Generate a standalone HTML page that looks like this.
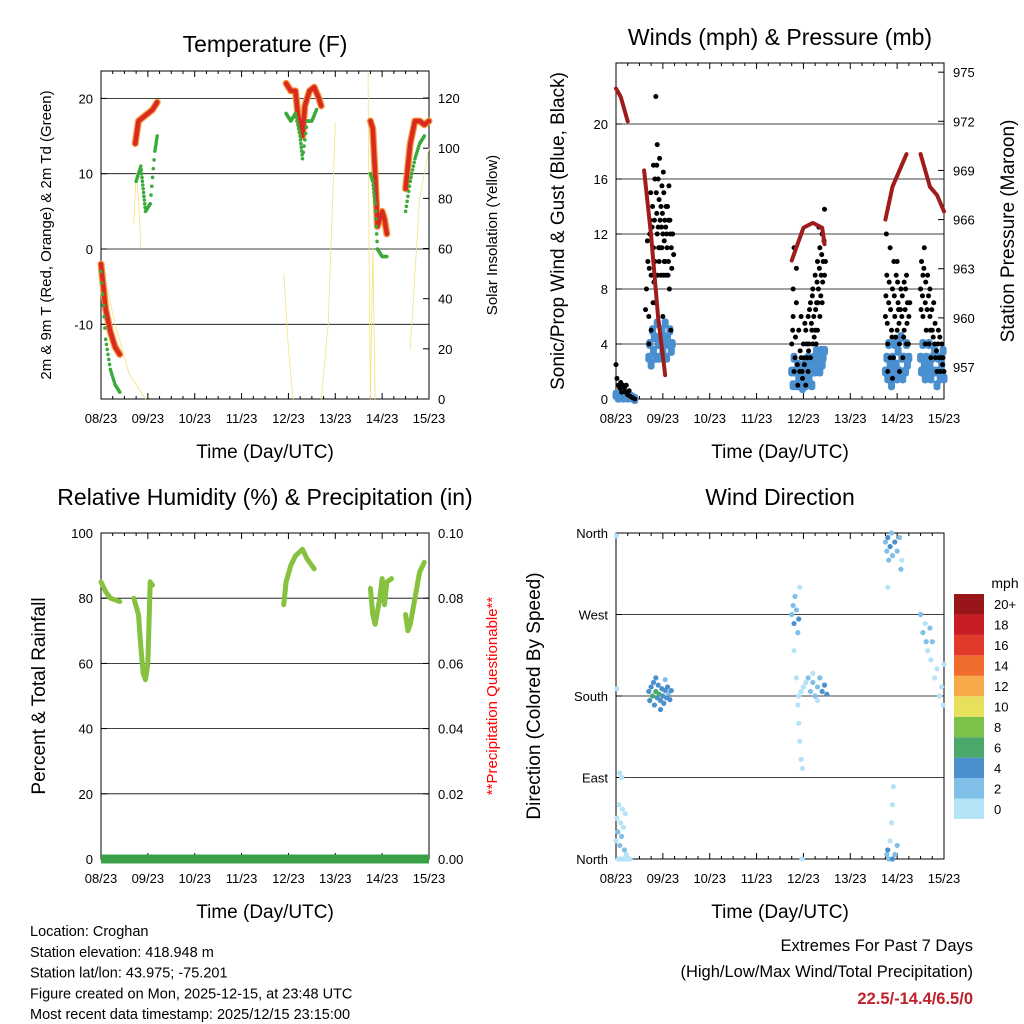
<!DOCTYPE html>
<html><head><meta charset="utf-8"><style>
body{margin:0;background:#fff}
svg{display:block;font-family:"Liberation Sans",sans-serif}
</style></head><body>
<svg id="chart" width="1024" height="1024" viewBox="0 0 1024 1024" xmlns="http://www.w3.org/2000/svg">
<rect width="1024" height="1024" fill="#fff"/>
<g id="g"></g>
</svg>
<script>
// ---- data ----
const dayTicks = ["08/23","09/23","10/23","11/23","12/23","13/23","14/23","15/23"];
const tempDays = [[0,0.1,0.2,0.3,0.4],[0.73,0.8,0.9,1.0,1.1,1.2],[3.95,4.05,4.15,4.2,4.3,4.35,4.45,4.55,4.65,4.7],[5.75,5.8,5.85,5.9,6.0,6.05,6.1],[6.5,6.6,6.7,6.8,6.9,7.0]];
const tempVals = [[-2,-8,-11,-13,-14],[14,17,17.5,18,18.5,19.5],[22,21,21,18,15,19,21,21.5,20,19],[17,16,10,3,5,4,2],[8,14,17,17,16.5,17]];
const dewDays = [[0,0.1,0.2,0.3,0.4],[0.75,0.85,0.9,0.95,1.05,1.15,1.2],[3.95,4.05,4.15,4.25,4.3,4.4,4.5,4.6],[5.75,5.8,5.85,5.9,6.0,6.1],[6.5,6.6,6.7,6.8,6.9]];
const dewVals = [[-3,-12,-16,-18,-19],[9,11,8,5,6,13,15],[18,17,18,15,12,17,17,18.5],[10,9,6,0,-1,-1],[5,9,12,14,15]];
const solDays = [[0,0.3,0.6,0.95],[0.7,0.75,0.8,0.85],[3.9,4.0,4.1],[4.7,4.85,5.0],[5.7,5.72,5.75,5.8,5.85],[6.6,6.8,7.0]];
const solVals = [[55,30,10,0],[70,90,80,60],[50,20,0],[0,30,110],[130,60,0,60,0],[20,80,100]];
const presDays = [[0,0.1,0.25],[0.6,0.75,0.9,1.05],[3.75,4.0,4.2,4.4,4.45],[5.75,5.9,6.05,6.2],[6.5,6.6,6.7,6.85,7.0]];
const presVals = [[974,973.5,972],[969,965,960,956.5],[963.5,965.5,965.8,965.5,964.5],[966,968,969,970],[970,969,968,967.5,966.5]];
const gustPairs = [0.0,2.5,0.02,1.5,0.05,1,0.08,0.8,0.1,1.2,0.12,0.5,0.15,1,0.18,0.8,0.2,0.5,0.22,1,0.25,0.3,0.28,0.6,0.3,0.2,0.35,0.1,0.4,0,
0.65,8,0.68,10,0.7,6,0.72,12,0.75,9,0.78,14,0.8,11,0.82,13,0.84,7,0.86,15,0.88,12,0.9,16,0.92,10,0.94,13,0.96,14,0.98,11,1.0,12,1.02,15,1.04,13,1.06,9,1.08,12,1.1,14,1.12,10,1.14,8,1.16,12,1.18,11,0.85,22,0.88,18.5,0.7,4,0.75,5,0.8,17,0.92,14.5,0.96,9,1.0,6,1.05,10,1.12,13,1.17,5,0.83,10,0.9,12.5,0.98,15.5,1.03,11.5,0.87,17,0.93,11,1.01,9,1.07,14,0.79,7,0.73,13,
0.63,6.5,0.67,11.5,0.71,9.5,0.74,15,0.77,12.5,0.81,8.5,0.83,16,0.87,13.5,0.89,9,0.91,11,0.93,17.5,0.97,12.5,0.99,13.5,1.01,16.5,1.03,10,1.06,12.5,1.09,11,1.11,9,1.13,15.5,1.15,13,1.19,9.5,1.21,12,1.23,10.5,
3.75,4,3.78,6,3.8,2,3.82,3,3.85,7,3.88,1,3.9,5,3.92,2,3.95,3,3.98,1.5,4.0,4,4.02,2.5,4.05,5,4.08,3,4.1,6,4.12,4,4.15,7,4.18,5,4.2,8,4.22,6,4.25,9,4.28,7,4.3,10,4.32,8,4.35,11,4.38,9,4.4,12,4.42,10,4.45,13.8,4.35,6,4.25,5,4.15,3,4.05,1,3.95,6,3.85,9.5,3.8,11,3.78,8,4.3,5,4.4,7,4.45,9,4.2,4,4.1,2,4.33,12.5,4.27,4,
3.77,5,3.83,4.5,3.87,2.5,3.93,3.5,3.97,2,4.01,3,4.03,5.5,4.07,4,4.11,3.5,4.13,6.5,4.17,5.5,4.19,7.5,4.23,4.5,4.26,6.5,4.29,8.5,4.31,7,4.34,9.5,4.37,7.5,4.39,10.5,4.41,8.5,4.44,11.5,4.47,10,
5.75,6,5.78,9,5.8,4,5.82,7,5.85,11,5.88,5,5.9,8,5.92,3,5.95,6,5.98,9,6.0,5,6.02,7,6.05,4,6.08,8,6.1,6,6.12,3,6.15,5,6.18,8,6.2,4,6.22,7,6.25,6,5.8,2,5.9,1.5,6.05,2,6.0,10,6.15,8.5,5.85,3,6.2,9,5.77,12,5.93,10,6.03,6.5,
5.76,7.5,5.79,5.5,5.83,8.5,5.86,6.5,5.89,4.5,5.94,7.5,5.97,4.5,6.01,8.5,6.04,5.5,6.07,6.5,6.11,7.5,6.14,4.5,6.17,6.5,6.21,5.5,6.24,4,6.27,7,
6.5,8,6.52,10,6.55,6,6.58,11,6.6,7,6.62,5,6.65,9,6.68,4,6.7,6,6.72,3,6.75,5,6.78,7,6.8,4,6.82,3,6.85,2,6.88,5,6.9,3,6.92,2,6.95,4,6.98,3,7.0,2,6.55,9,6.6,4,6.7,8,
6.51,6.5,6.54,7.5,6.57,9.5,6.61,8.5,6.64,6.5,6.67,7.5,6.71,5,6.74,6.5,6.77,4.5,6.81,5.5,6.84,3.5,6.87,4,6.91,4.5,6.94,3,6.97,2.5];
const windPairs = [0.0,0.3,0.05,0.1,0.1,0.4,0.15,0.1,0.2,0.3,0.25,0.1,0.3,0.2,0.35,0.1,0.4,0,
0.7,3,0.72,4,0.75,2.5,0.78,5,0.8,3.5,0.82,4.5,0.85,3,0.88,5.5,0.9,4,0.92,3,0.95,4.5,0.98,5,1.0,3.5,1.02,4,1.05,5.5,1.08,3,1.1,4.5,1.12,4,1.15,5,1.18,3.5,1.2,4,
3.75,2,3.78,1,3.8,3,3.82,2,3.85,1,3.88,2.5,3.9,1.5,3.92,1,3.95,2,3.98,0.8,4.0,1.5,4.02,2.5,4.05,1,4.08,2,4.1,3,4.12,1.5,4.15,2.5,4.18,1,4.2,2,4.22,3,4.25,2,4.28,3.5,4.3,2.5,4.32,3,4.35,2,4.38,3.5,4.4,2.5,4.42,3,4.45,3.5,
5.75,2,5.78,3,5.8,1.5,5.82,4,5.85,2.5,5.88,1,5.9,3,5.92,2,5.95,4,5.98,2.5,6.0,1.5,6.02,3.5,6.05,2,6.08,4.5,6.1,3,6.12,1.5,6.15,3,6.18,2,6.2,4,6.22,2.5,6.25,3,
6.5,3,6.52,2,6.55,4,6.58,2.5,6.6,1.5,6.62,3,6.65,2,6.68,4,6.7,2.5,6.72,1.5,6.75,3,6.78,2,6.8,3.5,6.82,2,6.85,1,6.88,3,6.9,2,6.92,1.5,6.95,2.5,6.98,3.5,7.0,1.5];
const rhDays = [[0,0.1,0.2,0.4],[0.7,0.8,0.85,0.9,0.95,1.0,1.05,1.1],[3.9,3.95,4.05,4.15,4.3,4.4,4.5,4.55],[5.75,5.8,5.85,5.95,6.0,6.05,6.1,6.2],[6.5,6.55,6.6,6.7,6.8,6.9]];
const rhVals = [[85,82,80,79],[80,75,65,57,55,60,85,84],[78,85,90,93,95,92,90,89],[83,75,72,80,86,78,85,86],[75,70,72,80,88,91]];
const precipVals = [0,0];
const dirTriples = [0.0,20,0,0.02,45,0,0.04,30,1,0.06,60,0,0.08,15,1,0.1,40,0,0.12,25,1,0.14,55,0,0.16,35,0,0.18,10,1,0.2,50,0,0.22,5,0,0.05,0,0,0.1,0,0,0.15,0,0,0.2,0,0,0.25,0,0,0.3,0,0,0.08,95,0,0.12,90,0,0.02,188,0,0.01,357,0,
0.7,185,4,0.72,175,4,0.75,190,4,0.78,180,6,0.8,195,4,0.82,170,4,0.85,185,6,0.88,178,4,0.9,192,4,0.92,182,6,0.95,175,4,0.98,188,4,1.0,180,4,1.02,172,4,1.05,186,4,1.08,178,4,1.1,190,4,1.12,183,2,1.15,176,4,1.18,186,4,0.85,200,4,0.95,165,4,1.05,198,2,
3.75,270,2,3.78,280,2,3.8,260,4,3.82,290,2,3.85,275,2,3.88,250,2,3.9,265,4,3.92,300,0,3.8,230,0,3.85,200,0,3.88,170,0,3.9,150,0,3.92,130,0,3.95,110,0,3.98,100,0,3.9,180,0,3.95,185,0,4.0,190,0,4.05,195,0,4.1,200,2,4.15,185,2,4.2,195,2,4.25,180,2,4.3,190,2,4.35,200,2,4.4,185,4,4.45,192,4,4.5,182,4,4.3,175,0,4.2,205,0,3.97,0,0,
5.75,350,2,5.78,340,2,5.8,355,4,5.82,330,2,5.85,345,4,5.88,360,2,5.9,335,2,5.95,350,4,6.0,340,2,6.05,355,2,6.1,330,0,6.08,320,2,5.8,300,0,5.78,5,2,5.8,10,4,5.82,0,2,5.85,20,0,5.88,40,0,5.9,60,0,5.92,80,0,5.95,5,2,6.0,15,2,5.9,0,4,
6.5,270,2,6.55,250,2,6.6,260,0,6.62,240,2,6.65,230,0,6.7,255,2,6.72,220,0,6.75,240,2,6.8,200,0,6.85,210,0,6.9,180,0,6.95,190,0,7.0,215,0,6.98,170,0];
const cbLabels = ["0","2","4","6","8","10","12","14","16","18","20+"];
const cbColors = ["#b5e3f7","#7fbfe8","#4a90cc","#4aa86a","#7cc24a","#e6e05c","#f8aa4a","#f06c2c","#e23a2a","#c61e24","#98151a"];

// ---- helpers ----
const NS="http://www.w3.org/2000/svg";
const G=document.getElementById('g');
function mk(tag,attrs,parent){const e=document.createElementNS(NS,tag);for(const k in attrs)e.setAttribute(k,attrs[k]);(parent||G).appendChild(e);return e;}
function txt(s,x,y,size,anchor,extra){const e=mk('text',Object.assign({x:x,y:y,'font-size':size,'text-anchor':anchor||'middle',fill:'#000'},extra||{}));e.textContent=s;return e;}
const DX=328/7;
function xd(x0){return d=>x0+d*DX;}

function panel(x0,y0,y1,name){
  const b=mk('rect',{x:x0,y:y0,width:328,height:y1-y0,fill:'none',stroke:'#000','stroke-width':1});
  
  
  const X=xd(x0);
  dayTicks.forEach((t,i)=>{
    const x=X(i);
    mk('line',{x1:x,x2:x,y1:y1,y2:y1-6,stroke:'#000'});
    mk('line',{x1:x,x2:x,y1:y0,y2:y0+6,stroke:'#000'});
    const l=txt(t,x,y1+24,13);
    
    
    if(i<7)for(let k=1;k<4;k++){const xm=x+k*DX/4;mk('line',{x1:xm,x2:xm,y1:y1,y2:y1-3,stroke:'#000'});mk('line',{x1:xm,x2:xm,y1:y0,y2:y0+3,stroke:'#000'});}
  });
  const xl=txt('Time (Day/UTC)',x0+164,y1+59,19);
  
  
  return X;
}
function hgrid(x0,y){mk('line',{x1:x0,x2:x0+328,y1:y,y2:y,stroke:'#000','stroke-width':0.8});}
function ltick(x0,y,label,name){
  mk('line',{x1:x0,x2:x0+6,y1:y,y2:y,stroke:'#000'});
  const l=txt(label,x0-8,y+5,13,'end');
  
  
}
function rtick(x1,y,label,name){
  mk('line',{x1:x1,x2:x1-6,y1:y,y2:y,stroke:'#000'});
  const l=txt(label,x1+9,y+5,13,'start');
  
  
}
function vlabel(s,x,y,size,name,color){
  const l=txt(s,x,y,size,'middle',{transform:`rotate(-90 ${x} ${y})`,fill:color||'#000'});
  
  
}
function title(s,x,y,name){const t=txt(s,x,y,23);}
function line(days,vals,X,Y,color,w,name){
  const pts=days.map((d,i)=>X(d)+','+Y(vals[i])).join(' ');
  const p=mk('polyline',{points:pts,fill:'none',stroke:color,'stroke-width':w,'stroke-linejoin':'round','stroke-linecap':'round'});
  
  
  return p;
}
function dots(days,vals,X,Y,color,r,name){
  const g=mk('g',{});
  
  
  for(let i=0;i<days.length-1;i++){
    for(let k=0;k<6;k++){const f=k/6;const d=days[i]+(days[i+1]-days[i])*f;const v=vals[i]+(vals[i+1]-vals[i])*f;mk('circle',{cx:X(d),cy:Y(v),r:r,fill:color},g);}
  }
  const n=days.length-1;mk('circle',{cx:X(days[n]),cy:Y(vals[n]),r:r,fill:color},g);
}

// ---- Panel 1: Temperature ----
{
  const y0=71,y1=399;
  const X=panel(101,y0,y1,'temperature');
  const YT=v=>249-v*7.53, YI=v=>399-v*2.508;
  [20,10,0,-10].forEach(v=>{hgrid(101,YT(v));ltick(101,YT(v),String(v),'temp-y-tick-label');});
  [0,20,40,60,80,100,120].forEach(v=>rtick(429,YI(v),String(v),'insolation-y-tick-label'));
  title('Temperature (F)',265,52,'temperature-title');
  vlabel('2m & 9m T (Red, Orange) & 2m Td (Green)',51,235,15,'temp-y-axis-title');
  vlabel('Solar Insolation (Yellow)',497,235,15,'insolation-y-axis-title');
  solDays.forEach((d,i)=>line(d,solVals[i],X,YI,'#f5e27a',0.8,'insolation-line'));
  tempDays.forEach((d,i)=>{line(d,tempVals[i],X,YT,'#f29a3a',7,'temp-9m-line');line(d,tempVals[i],X,YT,'#d82a20',4.5,'temp-2m-line');});
  dewDays.forEach((d,i)=>dots(d,dewVals[i],X,YT,'#3aaa3a',1.8,'dewpoint-series'));
}
// ---- Panel 2: Winds & Pressure ----
{
  const y0=63,y1=399;
  const X=panel(616,y0,y1,'winds');
  const YW=v=>399-v*13.75, YP=p=>367-(p-957)*16.38;
  [4,8,12,16,20].forEach(v=>hgrid(616,YW(v)));
  [0,4,8,12,16,20].forEach(v=>ltick(616,YW(v),String(v),'wind-y-tick-label'));
  [957,960,963,966,969,972,975].forEach(v=>rtick(944,YP(v),String(v),'pressure-y-tick-label'));
  title('Winds (mph) & Pressure (mb)',780,45,'winds-title');
  vlabel('Sonic/Prop Wind & Gust (Blue, Black)',564,231,19,'wind-y-axis-title');
  vlabel('Station Pressure (Maroon)',1014,231,19,'pressure-y-axis-title');
  const gb=mk('g',{});
  for(let i=0;i<windPairs.length;i+=2){mk('rect',{x:X(windPairs[i])-3.5,y:YW(windPairs[i+1])-5,width:7,height:10,rx:3,fill:'#4a90d0'},gb);}
  const gg=mk('g',{});
  for(let i=0;i<gustPairs.length;i+=2){mk('circle',{cx:X(gustPairs[i]),cy:YW(gustPairs[i+1]),r:2.5,fill:'#000'},gg);}
  presDays.forEach((d,i)=>line(d,presVals[i],X,YP,'#a01c1c',4,'pressure-line'));
}
// ---- Panel 3: RH & Precip ----
{
  const y0=533,y1=859;
  const X=panel(101,y0,y1,'humidity');
  const YH=v=>859-v*3.26, YR=v=>859-v*3260;
  [20,40,60,80].forEach(v=>hgrid(101,YH(v)));
  [0,20,40,60,80,100].forEach(v=>ltick(101,YH(v),String(v),'rh-y-tick-label'));
  [0,0.02,0.04,0.06,0.08,0.1].forEach(v=>rtick(429,YR(v),v.toFixed(2),'precip-y-tick-label'));
  title('Relative Humidity (%) & Precipitation (in)',265,505,'humidity-title');
  vlabel('Percent & Total Rainfall',45,696,19,'rh-y-axis-title');
  vlabel('**Precipitation Questionable**',497,696,15,'precip-y-axis-title','#ff0000');
  rhDays.forEach((d,i)=>line(d,rhVals[i],X,YH,'#86c240',5,'rh-line'));
  line([0,7],precipVals,X,YR,'#3aa048',9,'precip-line').setAttribute('stroke-linecap','butt');
}
// ---- Panel 4: Wind Direction ----
{
  const y0=533,y1=859;
  const X=panel(616,y0,y1,'wind-direction');
  const YD=d=>859-d*326/360;
  [90,180,270].forEach(v=>hgrid(616,YD(v)));
  ['North','East','South','West','North'].forEach((s,i)=>ltick(616,YD(i*90),s,'direction-y-tick-label'));
  title('Wind Direction',780,505,'wind-direction-title');
  vlabel('Direction (Colored By Speed)',540,696,19,'direction-y-axis-title');
  const gd=mk('g',{});
  for(let i=0;i<dirTriples.length;i+=3){
    const ci=Math.min(10,Math.round(dirTriples[i+2]/2));
    mk('circle',{cx:X(dirTriples[i]),cy:YD(dirTriples[i+1]),r:2.6,fill:cbColors[ci]},gd);
  }
  const cb=mk('g',{});
  const h=225/11;
  cbColors.forEach((c,i)=>{const y=819-(i+1)*h;mk('rect',{x:954,y:y,width:30,height:h,fill:c},cb);
    const l=txt(cbLabels[i],994,y+h/2+5,13,'start');});
  const m=txt('mph',1005,588,14);
}
// ---- footer ----
["Location: Croghan","Station elevation: 418.948 m","Station lat/lon: 43.975; -75.201","Figure created on Mon, 2025-12-15, at 23:48 UTC","Most recent data timestamp: 2025/12/15 23:15:00"].forEach((s,i)=>{
  const t=txt(s,30,936+i*20.8,14.5,'start');
});
{
  let t=txt('Extremes For Past 7 Days',973,951,16.5,'end');
  t=txt('(High/Low/Max Wind/Total Precipitation)',973,977,16.5,'end');
  t=txt('22.5/-14.4/6.5/0',973,1004,16.5,'end',{fill:'#c0202a','font-weight':'bold'});
}
</script>
</body></html>
